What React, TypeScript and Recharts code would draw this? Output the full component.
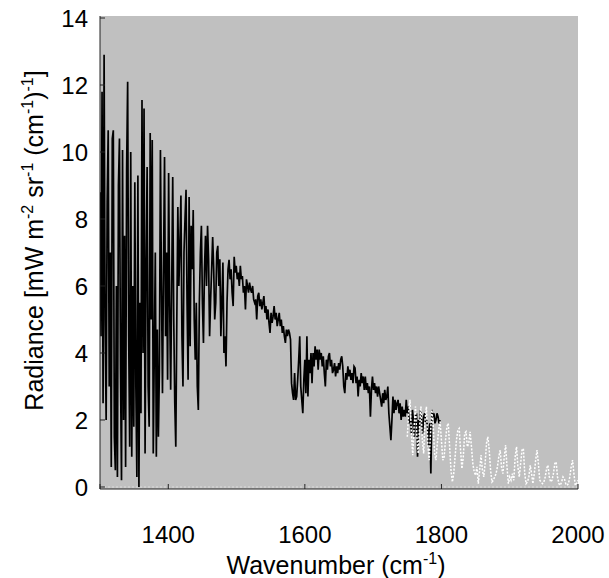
import React from 'react';
import { LineChart, Line, XAxis, YAxis, CartesianGrid, ReferenceLine } from 'recharts';

const FONT = '"Liberation Sans", Arial, Helvetica, sans-serif';

// black spectrum: sampled every 1.5 cm-1 starting at 1300
const BLACK_START = 1300;
const BLACK_STEP = 1.5;

const rad1300to1364 = [
  8.8, 4.5, 11.8, 2.5, 12.9, 5.0, 2.0, 8.5, 10.65, 3.0,
  7.0, 0.6, 10.4, 10.65, 1.5, 0.5, 6.0, 0.3, 9.0, 10.4,
  3.5, 0.2, 10.06, 2.0, 7.5, 0.6, 9.5, 12.1, 4.5, 1.2,
  10.0, 0.9, 6.0, 1.8, 9.1, 3.0, 0.3, 9.3, 0.0, 5.5,
  2.2, 11.55, 4.0, 11.3,
];
const rad1366to1430 = [
  1.0, 6.5, 9.55, 3.0, 1.8,
  10.57, 5.0, 10.36, 1.0, 4.0, 7.0, 0.9, 4.7, 1.5, 3.5,
  10.06, 6.0, 2.8, 6.5, 9.85, 4.5, 7.0, 3.2, 9.37, 5.5,
  2.9, 6.0, 9.25, 5.0, 2.5, 1.2, 5.0, 8.36, 6.0, 7.2,
  8.7, 4.5, 3.0, 7.0, 8.0, 8.87, 5.5, 3.2, 8.66,
];
const rad1432to1495 = [
  4.2, 7.8, 6.5, 8.27, 5.0, 3.8, 5.5, 3.0, 2.3, 5.5,
  7.0, 7.8, 5.5, 4.3, 6.5, 7.5, 6.0, 7.8, 6.8, 4.5,
  5.6, 6.5, 7.46, 6.5, 5.0, 5.5, 7.0, 7.2, 6.0, 6.8,
  4.5, 5.5, 6.7, 4.0, 4.5, 3.6, 5.5, 6.5, 6.78, 6.2,
  6.5, 5.8, 5.4,
];
const rad1497to1526 = [
  6.87, 6.4, 6.6, 6.2, 6.4, 6.0, 6.6, 6.2, 6.3, 5.8,
  6.0, 5.3, 6.2, 6.0, 5.8, 6.1, 5.9, 5.8, 6.0, 5.6,
];
const rad1527to1590 = [
  5.5, 5.6, 5.0, 5.7, 5.8,
  5.4, 5.6, 5.3, 5.5, 5.7, 5.2, 5.4, 5.0, 5.3, 4.9,
  4.6, 5.2, 4.9, 5.1, 5.4, 5.0, 5.2, 4.8, 5.0, 5.2,
  4.8, 5.0, 4.6, 4.8, 4.5, 4.3, 4.7, 4.5, 4.7, 4.6,
  4.4, 3.1, 2.8, 2.6, 3.4, 2.6, 2.7, 3.2,
];
const rad1591to1654 = [
  3.8,
  4.5, 3.0, 2.6, 2.2, 3.2, 3.8, 2.8, 4.5, 2.7, 3.8,
  3.4, 4.0, 3.1, 4.0, 3.6, 4.2, 3.8, 4.1, 3.5, 4.1,
  3.8, 4.0, 3.6, 3.9, 3.4, 3.0, 3.8, 3.5, 3.9, 4.0,
  3.6, 3.8, 3.4, 3.5, 3.7, 3.3, 3.6, 3.4, 3.7, 3.5,
  3.8, 3.9,
];
const rad1655to1719 = [
  3.6, 3.0, 2.8, 3.4, 3.2, 3.6, 3.3,
  3.5, 3.2, 3.4, 3.1, 3.6, 3.55, 3.1, 3.3, 2.7, 3.2,
  3.0, 3.4, 3.1, 3.3, 2.9, 3.3, 2.9, 3.1, 2.8, 3.0,
  2.1, 2.9, 3.3, 2.9, 3.1, 2.8, 3.0, 2.7, 3.0, 2.8,
  2.6, 2.4, 2.8, 2.5, 2.9, 2.6,
];
const rad1720to1783 = [
  2.7, 3.0, 2.2,
  1.8, 1.4, 2.0, 2.7, 2.2, 2.6, 2.3, 2.5, 2.6, 2.2,
  2.5, 2.0, 2.4, 2.1, 2.3, 2.1, 2.6, 2.2, 2.4, 1.9,
  2.0, 1.6, 2.3, 2.0, 1.5, 2.1, 2.2, 0.9, 2.0, 1.8,
  2.3, 2.0, 1.6, 2.1, 2.2, 1.9, 2.0, 1.7, 1.2, 1.9,
];
const rad1785to1798 = [0.4, 2.3, 2.1, 2.2, 1.9, 2.0, 2.2, 2.1, 1.9, 2.0];

// white dotted spectrum: every 2 cm-1 from 1750 to 2000
const WHITE_START = 1750;
const WHITE_STEP = 2;
const whiteRad = [
  1.5, 2.2, 2.6, 1.6, 0.95, 1.8, 2.4, 1.5, 1.0, 1.8,
  2.4, 1.4, 1.0, 2.0, 2.4, 1.3, 0.8, 1.6, 2.3, 1.8,
  1.0, 0.8, 1.3, 1.7, 1.95, 1.4, 0.8, 0.9, 1.4, 1.8,
  1.9, 1.2, 0.5, 0.15, 0.4, 0.9, 1.4, 1.7, 1.75, 1.1,
  0.55, 0.9, 1.6, 1.65, 1.2, 1.3, 1.65, 1.2, 0.7, 0.45,
  0.35, 0.6, 0.1, 0.5, 0.95, 0.5, 0.3, 0.7, 1.3, 1.5,
  1.1, 0.5, 0.15, 0.2, 0.3, 0.4, 0.6, 0.9, 1.1, 0.6,
  0.4, 0.9, 1.25, 0.6, 0.1, 0.3, 0.2, 0.4, 0.2, 0.9,
  1.2, 0.6, 0.3, 0.7, 1.1, 1.15, 0.4, 0.1, 0.15, 0.3,
  0.65, 0.4, 0.1, 0.4, 0.8, 1.1, 0.7, 0.2, 0.15, 0.1,
  0.15, 0.3, 0.55, 0.65, 0.3, 0.15, 0.2, 0.4, 0.7, 0.75,
  0.3, 0.1, 0.05, 0.15, 0.3, 0.25, 0.1, 0.05, 0.1, 0.3,
  0.6, 0.8, 0.4, 0.05, 0.1, 0.2,
];

const xTicks = [1300, 1400, 1600, 1800, 2000];
const xLabelTicks = [1400, 1600, 1800, 2000];
const yTicks = [0, 2, 4, 6, 8, 10, 12, 14];

const blackRad = [
  ...rad1300to1364, ...rad1366to1430, ...rad1432to1495, ...rad1497to1526,
  ...rad1527to1590, ...rad1591to1654, ...rad1655to1719, ...rad1720to1783, ...rad1785to1798,
];
const blackData = blackRad.map((r, i) => ({ wn: BLACK_START + i * BLACK_STEP, rad: r }));
const whiteData = whiteRad.map((r, i) => ({ wn: WHITE_START + i * WHITE_STEP, rad: r }));

const FRAME = '#222';
const PLOT_BG = '#c0c0c0';

const XTick = (props: any) => {
  const { x, y, payload } = props;
  if (!xLabelTicks.includes(payload.value)) return null;
  return (
    <text x={x} y={y} dy="0.71em" textAnchor="middle" fontSize={24} fontFamily={FONT} fill="#000">
      {payload.value}
    </text>
  );
};

const YTitle = (props: any) => {
  const vb = props.viewBox;
  const cx = vb.x + 43;
  const cy = vb.y + vb.height / 2 - 12;
  return (
    <text x={cx} y={cy} transform={`rotate(-90 ${cx} ${cy})`} textAnchor="middle" fontSize={25} fontFamily={FONT} fill="#000">
      Radiance [mW m<tspan dy={-10} fontSize={16}>-2</tspan>
      <tspan dy={10}> sr</tspan><tspan dy={-10} fontSize={16}>-1</tspan>
      <tspan dy={10}> (cm</tspan><tspan dy={-10} fontSize={16}>-1</tspan>
      <tspan dy={10}>)</tspan><tspan dy={-10} fontSize={16}>-1</tspan>
      <tspan dy={10}>]</tspan>
    </text>
  );
};

const XTitle = (props: any) => {
  const vb = props.viewBox;
  const cx = vb.x + vb.width / 2 - 3;
  const cy = vb.y + 85;
  return (
    <text x={cx} y={cy} textAnchor="middle" fontSize={25} fontFamily={FONT} fill="#000">
      Wavenumber (cm<tspan dy={-10} fontSize={16}>-1</tspan><tspan dy={10}>)</tspan>
    </text>
  );
};

export default function App() {
  return (
    <div style={{ position: 'absolute', left: 0, top: 0, width: 609, height: 578, background: '#fff' }}>
      <LineChart width={609} height={578} margin={{ top: 16, right: 31, bottom: 29, left: 0 }}>
        <CartesianGrid horizontal={false} vertical={false} fill={PLOT_BG} />
        <XAxis
          type="number"
          dataKey="wn"
          domain={[1300, 2000]}
          ticks={xTicks}
          allowDataOverflow
          height={60}
          axisLine={{ stroke: FRAME }}
          tickLine={{ stroke: FRAME }}
          tickSize={-5}
          tickMargin={42}
          tick={<XTick />}
          label={{ content: XTitle }}
        />
        <XAxis
          xAxisId="top"
          orientation="top"
          type="number"
          domain={[1300, 2000]}
          ticks={xTicks}
          allowDataOverflow
          height={0}
          axisLine={{ stroke: FRAME }}
          tickLine={{ stroke: FRAME }}
          tickSize={-5}
          tick={false}
        />
        <YAxis
          type="number"
          domain={[-0.06, 14.06]}
          ticks={yTicks}
          allowDataOverflow
          width={100}
          axisLine={{ stroke: FRAME }}
          tickLine={{ stroke: FRAME }}
          tickSize={-5}
          tickMargin={17}
          tick={{ fill: '#000', fontSize: 24, fontFamily: FONT }}
          label={{ content: YTitle }}
        />
        <YAxis
          yAxisId="right"
          orientation="right"
          type="number"
          domain={[-0.06, 14.06]}
          ticks={yTicks}
          allowDataOverflow
          width={0}
          axisLine={{ stroke: FRAME }}
          tickLine={{ stroke: FRAME }}
          tickSize={-5}
          tick={false}
        />
        <ReferenceLine y={0} stroke="#dcdcdc" strokeDasharray="2 2" />
        <Line
          data={blackData}
          dataKey="rad"
          type="linear"
          stroke="#000"
          strokeWidth={1.7}
          dot={false}
          activeDot={false}
          isAnimationActive={false}
        />
        <Line
          data={whiteData}
          dataKey="rad"
          type="linear"
          stroke="#fff"
          strokeWidth={1.5}
          strokeDasharray="2 1.5"
          dot={false}
          activeDot={false}
          isAnimationActive={false}
        />
      </LineChart>
    </div>
  );
}
